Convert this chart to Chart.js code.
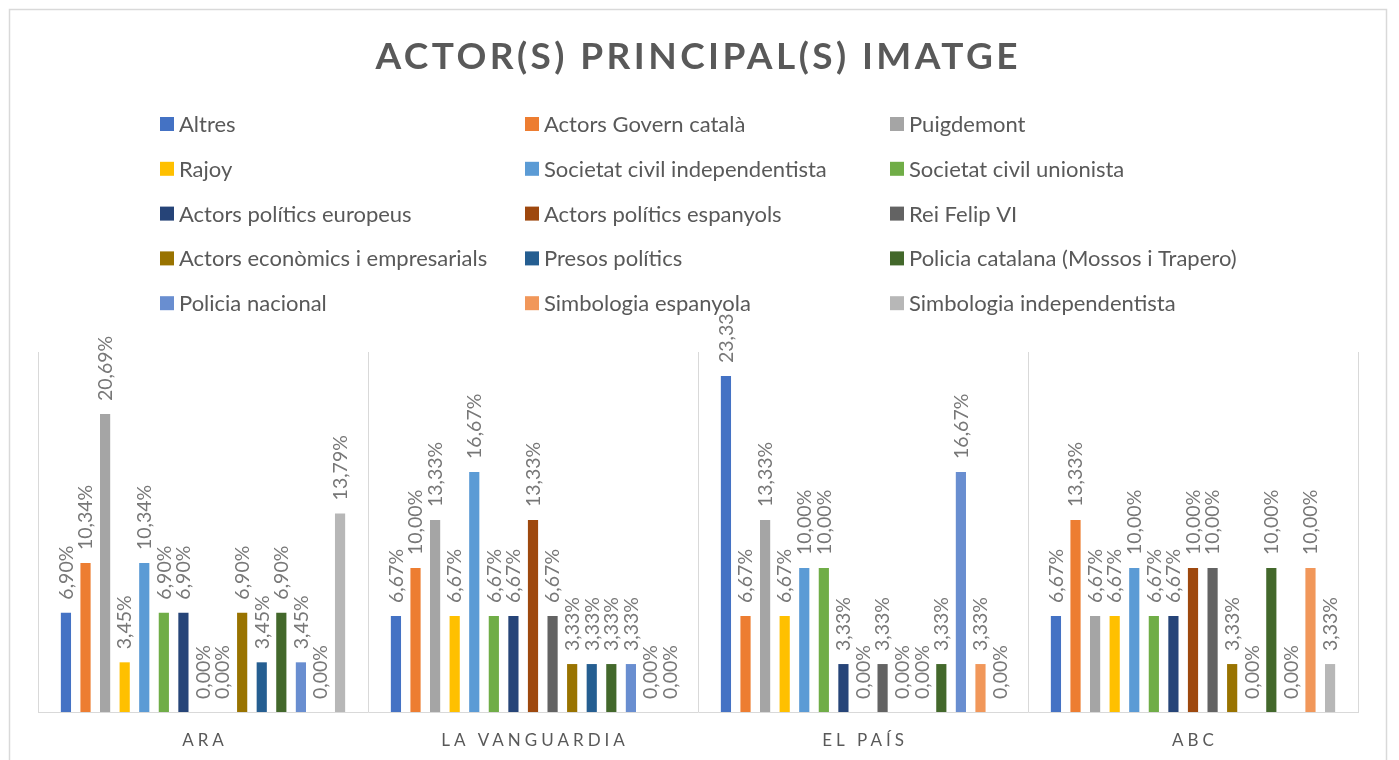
<!DOCTYPE html>
<html>
<head>
<meta charset="utf-8">
<title>Actor(s) principal(s) imatge</title>
<script src="https://cdn.jsdelivr.net/npm/chart.js@4.4.1/dist/chart.umd.min.js"></script>
<style>
    html, body { margin: 0; padding: 0; background: #ffffff; }
    #wrap { width: 1399px; height: 760px; }
</style>
</head>
<body>
<div id="wrap"><canvas id="chart" width="1399" height="760"></canvas></div>
<script>
// Dades del gràfic (percentatges per diari)
const chartTitle = 'ACTOR(S) PRINCIPAL(S) IMATGE';
const categories = ['ARA', 'LA VANGUARDIA', 'EL PAÍS', 'ABC'];

const seriesNames = [
    'Altres', 'Actors Govern català', 'Puigdemont',
    'Rajoy', 'Societat civil independentista', 'Societat civil unionista',
    'Actors polítics europeus', 'Actors polítics espanyols', 'Rei Felip VI',
    'Actors econòmics i empresarials', 'Presos polítics', 'Policia catalana (Mossos i Trapero)',
    'Policia nacional', 'Simbologia espanyola', 'Simbologia independentista'
];

const seriesColors = [
    '#4472C4', '#ED7D31', '#A5A5A5',
    '#FFC000', '#5B9BD5', '#70AD47',
    '#264478', '#9E480E', '#636363',
    '#997300', '#255E91', '#43682B',
    '#698ED0', '#F1975A', '#B7B7B7'
];

// valors: ARA, LA VANGUARDIA, EL PAÍS, ABC
const altres            = [6.90, 6.67, 23.33, 6.67];
const actorsGovern      = [10.34, 10.00, 6.67, 13.33];
const puigdemont        = [20.69, 13.33, 13.33, 6.67];
const rajoy             = [3.45, 6.67, 6.67, 6.67];
const socCivilIndep     = [10.34, 16.67, 10.00, 10.00];
const socCivilUnion     = [6.90, 6.67, 10.00, 6.67];
const politicsEuropeus  = [6.90, 6.67, 3.33, 6.67];
const politicsEspanyols = [0.00, 13.33, 0.00, 10.00];
const reiFelip          = [0.00, 6.67, 3.33, 10.00];
const economics         = [6.90, 3.33, 0.00, 3.33];
const presos            = [3.45, 3.33, 0.00, 0.00];
const policiaCatalana   = [6.90, 3.33, 3.33, 10.00];
const policiaNacional   = [3.45, 3.33, 16.67, 0.00];
const simbEspanyola     = [0.00, 0.00, 3.33, 10.00];
const simbIndep         = [13.79, 0.00, 0.00, 3.33];

const seriesValues = [
    altres, actorsGovern, puigdemont,
    rajoy, socCivilIndep, socCivilUnion,
    politicsEuropeus, politicsEspanyols, reiFelip,
    economics, presos, policiaCatalana,
    policiaNacional, simbEspanyola, simbIndep
];

const TEXT_GREY = '#595959';
const LABEL_GREY = '#777777';
const LINE_GREY = '#d9d9d9';
const FONT = 'Lato, "Open Sans", sans-serif';

// format català: 6,90%
function formatPct(v) {
    return v.toFixed(2).replace('.', ',') + '%';
}

// Marc i fons del gràfic
const framePlugin = {
    id: 'frame',
    beforeDraw(chart) {
        const ctx = chart.ctx;
        ctx.save();
        ctx.fillStyle = '#ffffff';
        ctx.fillRect(0, 0, chart.width, chart.height);
        ctx.strokeStyle = LINE_GREY;
        ctx.lineWidth = 1.5;
        ctx.strokeRect(9.5, 9.5, 1377, 800);
        ctx.restore();
    }
};

// Títol amb espaiat entre lletres
const titlePlugin = {
    id: 'spacedTitle',
    afterDraw(chart) {
        const ctx = chart.ctx;
        ctx.save();
        ctx.font = 'bold 37px ' + FONT;
        ctx.fillStyle = TEXT_GREY;
        ctx.textBaseline = 'middle';
        ctx.textAlign = 'left';
        ctx.letterSpacing = '0px';
        const targetW = 642;
        const w0 = ctx.measureText(chartTitle).width;
        const sp = (targetW - w0) / (chartTitle.length - 1);
        ctx.letterSpacing = sp + 'px';
        ctx.fillText(chartTitle, chart.width / 2 - targetW / 2 - 3, 57);
        ctx.restore();
    }
};

// Llegenda en tres columnes
const legendPlugin = {
    id: 'gridLegend',
    afterDraw(chart) {
        const ctx = chart.ctx;
        const colX = [160, 525, 890];
        const rowY0 = 124, rowStep = 44.8;
        ctx.save();
        ctx.font = '22px ' + FONT;
        ctx.textBaseline = 'middle';
        ctx.textAlign = 'left';
        chart.data.datasets.forEach((ds, i) => {
            const x = colX[i % 3];
            const y = rowY0 + Math.floor(i / 3) * rowStep;
            ctx.fillStyle = ds.backgroundColor;
            ctx.fillRect(x, y - 7, 14, 14);
            ctx.fillStyle = TEXT_GREY;
            ctx.fillText(ds.label, x + 19, y + 1);
        });
        ctx.restore();
    }
};

// Etiquetes de valor girades sobre cada barra
const barLabelPlugin = {
    id: 'barLabels',
    afterDatasetsDraw(chart) {
        const ctx = chart.ctx;
        const clipTop = 313;
        ctx.save();
        ctx.beginPath();
        ctx.rect(0, clipTop, chart.width, chart.height - clipTop);
        ctx.clip();
        ctx.font = '19.5px ' + FONT;
        ctx.fillStyle = LABEL_GREY;
        ctx.textAlign = 'left';
        ctx.textBaseline = 'middle';
        chart.data.datasets.forEach((ds, i) => {
            chart.getDatasetMeta(i).data.forEach((bar, j) => {
                ctx.save();
                ctx.translate(bar.x + 0.5, bar.y - 13);
                ctx.rotate(-Math.PI / 2);
                ctx.fillText(formatPct(ds.data[j]), 0, 0);
                ctx.restore();
            });
        });
        ctx.restore();
    }
};

// Noms dels diaris sota l'eix
const categoryLabelPlugin = {
    id: 'categoryLabels',
    afterDraw(chart) {
        const ctx = chart.ctx;
        const xScale = chart.scales.x;
        const sp = 4;
        ctx.save();
        ctx.font = '17px ' + FONT;
        ctx.fillStyle = TEXT_GREY;
        ctx.textAlign = 'center';
        ctx.textBaseline = 'middle';
        ctx.letterSpacing = sp + 'px';
        chart.data.labels.forEach((lab, i) => {
            ctx.fillText(lab, xScale.getPixelForValue(i) + sp / 2, 741);
        });
        ctx.restore();
    }
};

const datasets = seriesNames.map((name, i) => ({
    label: name,
    data: seriesValues[i],
    backgroundColor: seriesColors[i],
    borderWidth: 0,
    categoryPercentage: 0.89,
    barPercentage: 0.52
}));

new Chart(document.getElementById('chart'), {
    type: 'bar',
    data: { labels: categories, datasets: datasets },
    options: {
        responsive: false,
        animation: false,
        devicePixelRatio: 1,
        layout: { padding: { left: 38, right: 41, top: 352, bottom: 48 } },
        plugins: {
            legend: { display: false },
            title: { display: false },
            tooltip: { enabled: false }
        },
        scales: {
            x: {
                offset: true,
                ticks: { display: false },
                grid: { display: true, offset: true, color: LINE_GREY, lineWidth: 1, drawTicks: false },
                border: { display: true, color: LINE_GREY, width: 1 }
            },
            y: {
                display: false,
                min: 0,
                max: 25
            }
        }
    },
    plugins: [framePlugin, titlePlugin, legendPlugin, barLabelPlugin, categoryLabelPlugin]
});
</script>
</body>
</html>
